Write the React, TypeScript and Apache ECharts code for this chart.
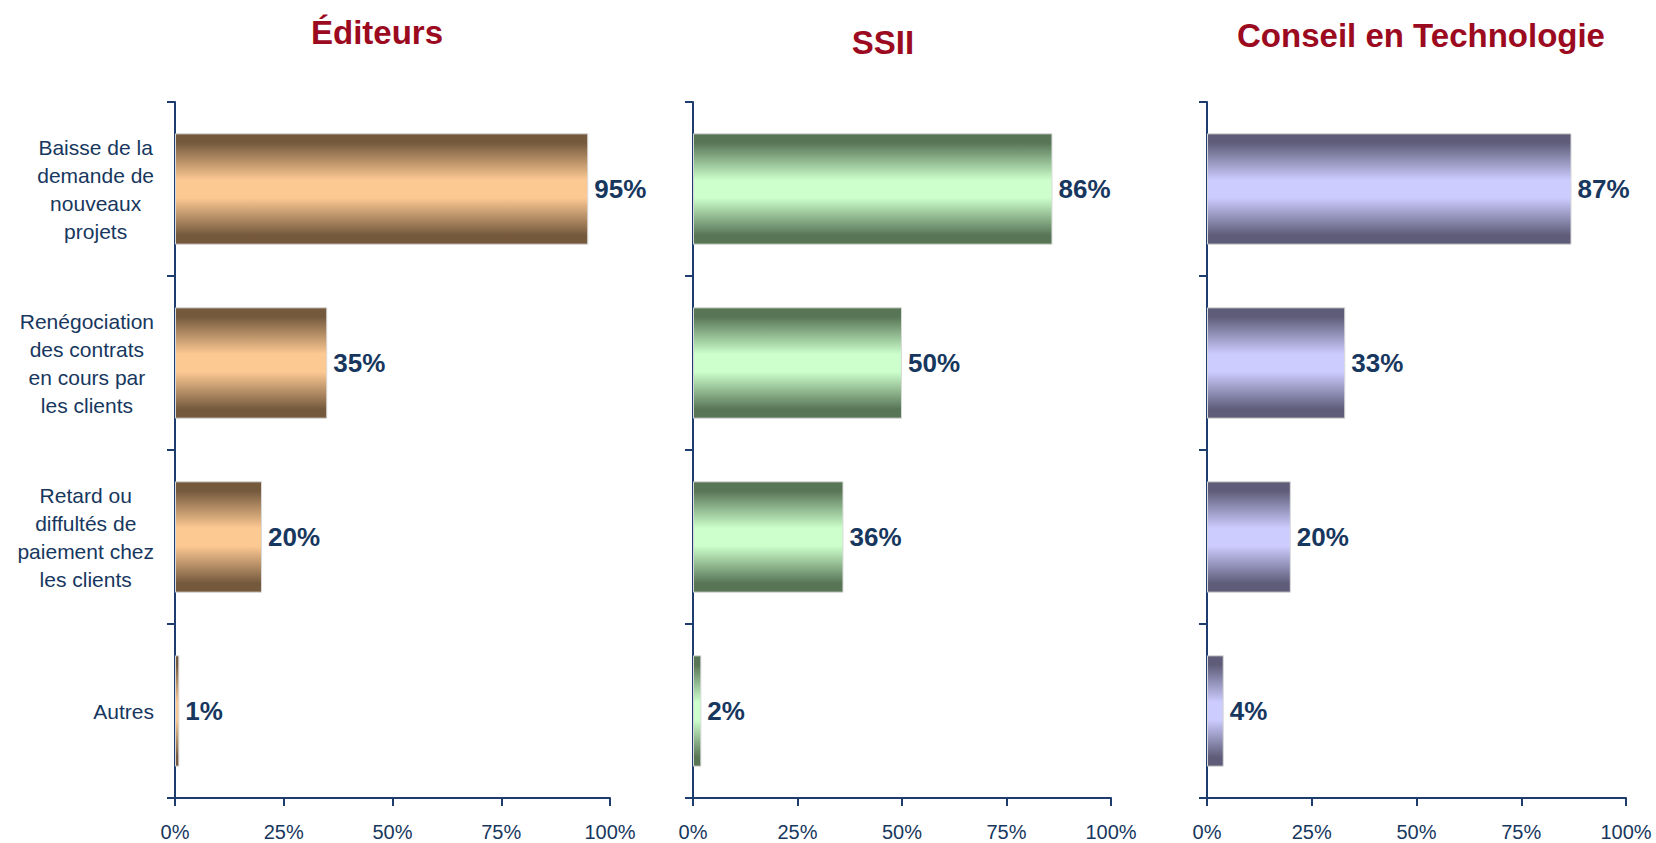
import React, { useEffect, useRef } from "react";
import * as echarts from "echarts";

const categories = [
  "Baisse de la\ndemande de\nnouveaux\nprojets",
  "Renégociation\ndes contrats\nen cours par\nles clients",
  "Retard ou\ndiffultés de\npaiement chez\nles clients",
  "Autres",
];
const panelTitles = ["Éditeurs", "SSII", "Conseil en Technologie"];
const editeursValues = [95, 35, 20, 1];
const ssiiValues = [86, 50, 36, 2];
const conseilValues = [87, 33, 20, 4];
const xTicks = { min: 0, max: 100, interval: 25 };

const NAVY = "#17375e";
const AXIS = "#1f3c6e";
const TITLE_RED = "#9b0a1e";
const FONT = '"Liberation Sans", Arial, sans-serif';

const palettes = [
  { dark: "#74593d", light: "#fdc993" },
  { dark: "#587556", light: "#ccffcc" },
  { dark: "#5e5c78", light: "#ccccff" },
];

const grids = [
  { left: 175, width: 435 },
  { left: 693, width: 418 },
  { left: 1207, width: 419 },
];
const titlePos = [
  { x: 377, y: 32 },
  { x: 883, y: 42 },
  { x: 1421, y: 35 },
];

export default function App() {
  const ref = useRef<HTMLDivElement>(null);
  useEffect(() => {
    if (!ref.current) return;
    const chart = echarts.init(ref.current, undefined, { renderer: "svg" });
    const values = [editeursValues, ssiiValues, conseilValues];
    const option: any = {
      animation: false,
      backgroundColor: "#ffffff",
      grid: grids.map((g) => ({ left: g.left, width: g.width, top: 102, bottom: 45 })),
      graphic: panelTitles.map((t, i) => ({
        type: "text",
        x: titlePos[i].x,
        y: titlePos[i].y,
        style: {
          text: t,
          align: "center",
          verticalAlign: "middle",
          fill: TITLE_RED,
          font: `bold 33px ${FONT}`,
        },
      })),
      xAxis: grids.map((_, i) => ({
        type: "value",
        gridIndex: i,
        min: xTicks.min,
        max: xTicks.max,
        interval: xTicks.interval,
        splitLine: { show: false },
        axisLine: { show: true, lineStyle: { color: AXIS, width: 2 } },
        axisTick: { show: true, length: 8, lineStyle: { color: AXIS, width: 2 } },
        axisLabel: {
          formatter: "{value}%",
          color: NAVY,
          fontFamily: FONT,
          fontSize: 20,
          margin: 24,
        },
      })),
      yAxis: grids.map((_, i) => ({
        type: "category",
        gridIndex: i,
        inverse: true,
        data: categories,
        axisLine: { show: true, lineStyle: { color: AXIS, width: 2 } },
        axisTick: { show: true, length: 8, lineStyle: { color: AXIS, width: 2 } },
        axisLabel: {
          show: i === 0,
          align: "right",
          margin: 21,
          formatter: (v: string) =>
            v
              .split("\n")
              .map((l) => `{c|${l}}`)
              .join("\n"),
          rich: {
            c: {
              align: "center",
              fontSize: 21,
              lineHeight: 28,
              color: NAVY,
              fontFamily: FONT,
            },
          },
        },
      })),
      series: values.map((vals, i) => ({
        type: "bar",
        xAxisIndex: i,
        yAxisIndex: i,
        data: vals,
        barCategoryGap: "36%",
        itemStyle: {
          borderColor: "#d9d9d9",
          borderWidth: 1,
          color: new echarts.graphic.LinearGradient(0, 0, 0, 1, [
            { offset: 0, color: palettes[i].dark },
            { offset: 0.08, color: palettes[i].dark },
            { offset: 0.42, color: palettes[i].light },
            { offset: 0.58, color: palettes[i].light },
            { offset: 0.92, color: palettes[i].dark },
            { offset: 1, color: palettes[i].dark },
          ]),
        },
        label: {
          show: true,
          position: "right",
          distance: 6,
          formatter: "{c}%",
          color: NAVY,
          fontFamily: FONT,
          fontWeight: "bold",
          fontSize: 26,
        },
      })),
    };
    chart.setOption(option);
    return () => chart.dispose();
  }, []);
  return (
    <div
      ref={ref}
      style={{ position: "fixed", left: 0, top: 0, width: 1656, height: 843, background: "#fff" }}
    />
  );
}
